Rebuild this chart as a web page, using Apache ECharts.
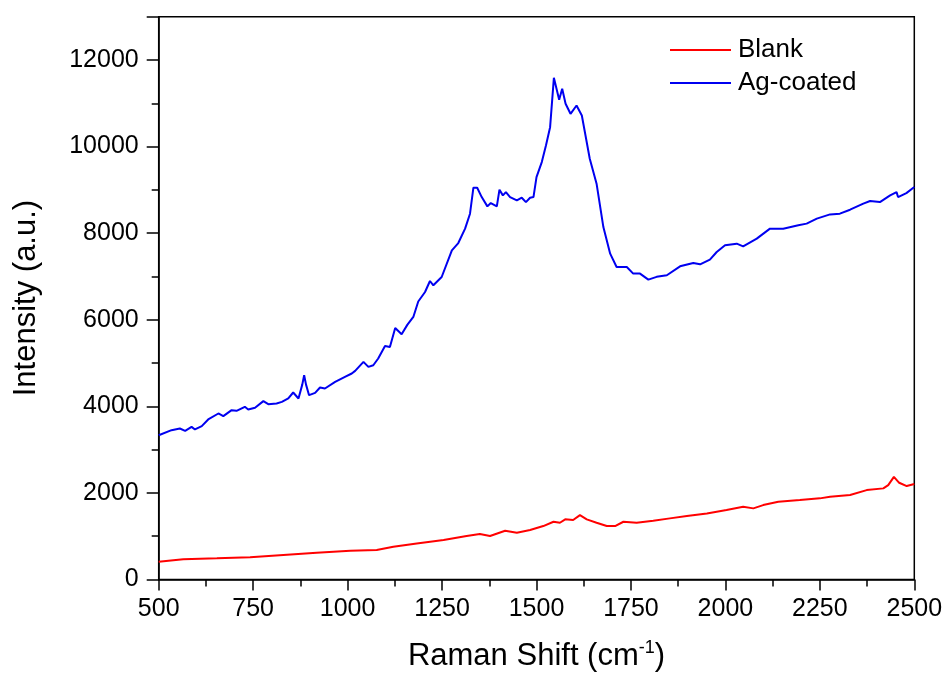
<!DOCTYPE html>
<html>
<head>
<meta charset="utf-8">
<script src="https://cdn.jsdelivr.net/npm/echarts@6/dist/echarts.min.js"></script>
<style>
html,body{margin:0;padding:0;background:#fff;}
#chart{width:949px;height:682px;}
</style>
</head>
<body>
<div id="chart"></div>
<script>
var xTicks = [500, 750, 1000, 1250, 1500, 1750, 2000, 2250, 2500];
var yTicks = [0, 2000, 4000, 6000, 8000, 10000, 12000];

var blankX = [500,565,654,742,830,918,1007,1077,1121,1183,1254,1315,1350,1377,1417,1448,1483,1518,1545,1562,1576,1597,1615,1633,1659,1686,1708,1730,1765,1809,1853,1898,1951,2003,2047,2074,2100,2140,2197,2250,2277,2330,2374,2418,2431,2446,2460,2480,2500];
var blankY = [409,463,486,509,563,617,663,678,755,832,909,1002,1048,1002,1124,1078,1140,1232,1332,1309,1387,1371,1486,1387,1309,1232,1232,1332,1309,1355,1410,1463,1525,1602,1678,1641,1717,1793,1833,1872,1909,1948,2063,2103,2179,2370,2232,2156,2202];

var agX = [500,534,556,570,587,596,614,631,658,671,693,706,728,737,755,777,790,812,826,843,856,870,880,885,890,898,914,927,940,967,993,1011,1020,1042,1055,1068,1081,1099,1112,1126,1143,1158,1174,1187,1205,1218,1227,1249,1276,1293,1311,1324,1333,1343,1355,1370,1379,1395,1402,1411,1419,1430,1448,1461,1472,1483,1492,1500,1514,1525,1536,1546,1560,1568,1577,1590,1606,1620,1641,1659,1677,1695,1712,1739,1756,1774,1796,1818,1845,1880,1915,1933,1959,1977,1999,2030,2047,2083,2118,2153,2193,2215,2242,2277,2303,2330,2365,2383,2409,2436,2453,2457,2479,2500];
var agY = [3330,3448,3487,3432,3524,3464,3540,3695,3833,3771,3910,3894,3987,3926,3964,4118,4048,4064,4102,4180,4318,4180,4500,4718,4500,4256,4309,4433,4410,4563,4679,4757,4817,5025,4910,4948,5103,5394,5371,5809,5664,5880,6063,6420,6640,6894,6794,6986,7602,7771,8103,8449,9049,9049,8833,8618,8694,8618,9003,8872,8948,8833,8756,8818,8717,8818,8833,9294,9641,10026,10448,11588,11081,11335,10988,10757,10949,10718,9719,9142,8140,7526,7217,7217,7065,7065,6926,6990,7026,7233,7310,7279,7388,7563,7718,7757,7695,7872,8103,8103,8180,8219,8334,8433,8449,8541,8680,8741,8717,8872,8948,8833,8925,9064];

function pairs(xs, ys){ return xs.map(function(x,i){ return [x, ys[i]]; }); }

var font = '"Liberation Sans", Arial, sans-serif';
var chart = echarts.init(document.getElementById('chart'), null, {renderer:'canvas'});
chart.setOption({
  animation: false,
  backgroundColor: '#fff',
  grid: {left: 158.7, right: 34.7, top: 16.7, bottom: 102.6, show: true, borderColor: '#000', borderWidth: 1.5, backgroundColor: 'transparent'},
  legend: {
    orient: 'vertical', left: 665, top: 32,
    icon: 'rect', itemWidth: 61, itemHeight: 2, itemGap: 7,
    textStyle: {fontFamily: font, fontSize: 26, color: '#000', lineHeight: 26, padding: [0,0,0,2]},
    data: ['Blank', 'Ag-coated']
  },
  xAxis: {
    type: 'value', min: xTicks[0], max: xTicks[xTicks.length-1], interval: 250,
    name: '{a|Raman Shift (cm}{s|-1}{a|)}', nameLocation: 'middle', nameGap: 60,
    nameTextStyle: {rich: {a: {fontFamily: font, fontSize: 31, color: '#000'}, s: {fontFamily: font, fontSize: 18, color: '#000', verticalAlign: 'top', padding: [0,0,16,0]}}},
    axisLine: {show: true, lineStyle: {color: '#000', width: 1.5}},
    axisTick: {show: true, inside: false, length: 11, lineStyle: {color: '#000', width: 1.5}},
    minorTick: {show: true, splitNumber: 2, length: 7, lineStyle: {color: '#000', width: 1.5}},
    axisLabel: {fontFamily: font, fontSize: 25, color: '#000', margin: 17,
      formatter: function(v){ return xTicks.indexOf(v) >= 0 ? String(v) : ''; }},
    splitLine: {show: false}
  },
  yAxis: {
    type: 'value', min: 0, max: 13000, interval: 2000,
    name: 'Intensity (a.u.)', nameLocation: 'middle', nameGap: 117,
    nameTextStyle: {fontFamily: font, fontSize: 31, color: '#000'},
    axisLine: {show: true, lineStyle: {color: '#000', width: 1.5}},
    axisTick: {show: true, inside: false, length: 12, lineStyle: {color: '#000', width: 1.5}},
    minorTick: {show: true, splitNumber: 2, length: 7, lineStyle: {color: '#000', width: 1.5}},
    axisLabel: {fontFamily: font, fontSize: 25, color: '#000', margin: 20, showMaxLabel: false,
      formatter: function(v){ return yTicks.indexOf(v) >= 0 ? String(v) : ''; }},
    splitLine: {show: false}
  },
  series: [
    {name: 'Blank', type: 'line', data: pairs(blankX, blankY), showSymbol: false, symbol: 'none',
     lineStyle: {color: '#ff0000', width: 2}, itemStyle: {color: '#ff0000'}},
    {name: 'Ag-coated', type: 'line', data: pairs(agX, agY), showSymbol: false, symbol: 'none',
     lineStyle: {color: '#0000f0', width: 2}, itemStyle: {color: '#0000f0'}}
  ]
});
</script>
</body>
</html>
